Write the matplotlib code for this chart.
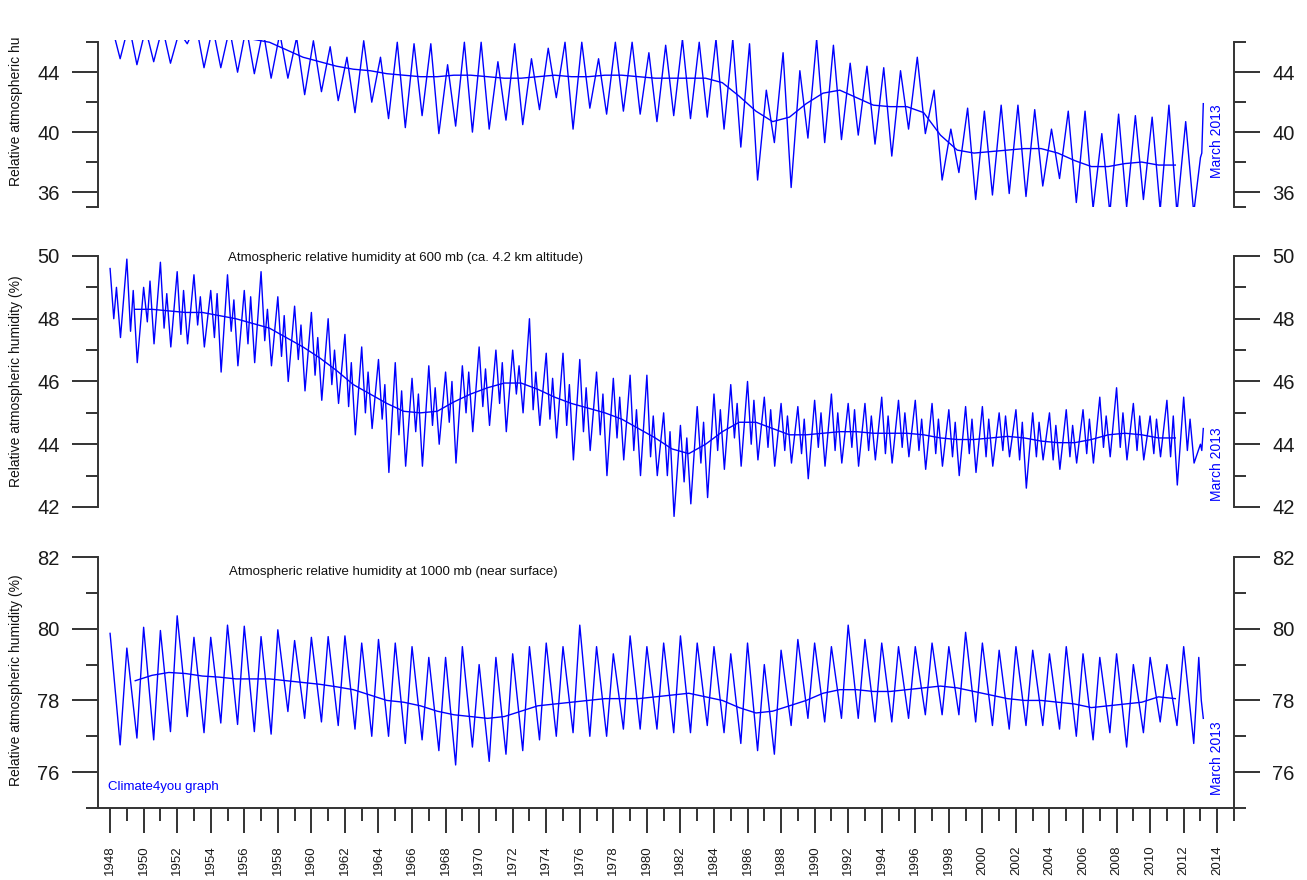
import numpy as np
import matplotlib
matplotlib.use('Agg')
import matplotlib.pyplot as plt
from matplotlib.ticker import MultipleLocator

plt.rcParams['font.family'] = ['Liberation Sans', 'DejaVu Sans']

# calendar years of the yearly extremes (Jan 1948 .. 2012)
years = list(range(1948, 2013))
# centres of the running mean values
smooth_years = [y + 0.5 for y in range(1949, 2012)]

# ---- top panel (upper troposphere, clipped at top) ----
top_peaks = [47.0, 47.2, 46.9, 47.0, 46.7, 47.2, 47.0, 46.9, 47.0, 46.8,
             46.6, 46.3, 46.1, 45.7, 45.0, 46.1, 45.0, 46.0, 45.9, 45.9,
             44.5, 46.0, 46.0, 44.7, 45.9, 44.9, 45.6, 46.0, 46.0, 44.9,
             46.0, 46.0, 45.3, 45.8, 46.2, 46.0, 46.2, 46.2, 45.9, 42.8,
             45.3, 44.1, 46.2, 45.8, 44.6, 44.4, 44.3, 44.1, 45.0, 42.8,
             40.2, 41.6, 41.4, 41.8, 41.8, 41.5, 40.2, 41.4, 41.4, 39.9,
             41.2, 41.1, 41.0, 41.8, 40.7]
top_troughs = [44.9, 44.5, 44.7, 44.6, 45.9, 44.3, 44.3, 44.0, 43.9, 43.6,
               43.6, 42.5, 42.7, 42.1, 41.3, 42.0, 40.9, 40.3, 41.1, 39.9,
               40.4, 40.0, 40.2, 40.8, 40.5, 41.5, 42.3, 40.2, 41.6, 41.2,
               41.4, 41.2, 40.7, 41.1, 40.9, 41.0, 40.2, 39.0, 36.8, 39.3,
               36.3, 39.6, 39.3, 39.5, 39.8, 39.2, 38.4, 40.2, 39.9, 36.8,
               37.3, 35.5, 35.8, 35.9, 35.7, 36.4, 36.9, 35.3, 34.9, 34.6,
               35.0, 35.5, 34.8, 34.6, 34.6]
top_end_t = [2013.0, 2013.08, 2013.17]
top_end_v = [38.3, 38.6, 41.9]
top_smooth = [46.8, 46.8, 46.7, 46.7, 46.6, 46.5, 46.4, 46.2,
              46.0, 45.5, 45.0, 44.7, 44.4, 44.2, 44.1, 43.9, 43.8, 43.7,
              43.7, 43.8, 43.8, 43.7, 43.6, 43.6, 43.7, 43.8, 43.7, 43.7,
              43.8, 43.8, 43.7, 43.6, 43.6, 43.6, 43.6, 43.3, 42.4, 41.4,
              40.7, 41.0, 41.9, 42.6, 42.8, 42.3, 41.8, 41.7, 41.7, 41.3,
              39.8, 38.8, 38.6, 38.7, 38.8, 38.9, 38.9, 38.6, 38.1, 37.7,
              37.7, 37.9, 38.0, 37.8, 37.8]

# ---- 600 mb (two wiggles a year: main peak, dip, bump, main trough) ----
mid_peaks = [49.6, 49.9, 49.0, 49.8, 49.5, 49.4, 48.9, 49.4, 48.9, 49.5,
             48.7, 48.4, 48.2, 48.0, 47.5, 47.1, 46.7, 46.6, 46.1, 46.5,
             46.3, 46.5, 47.1, 47.0, 47.0, 48.0, 46.9, 46.9, 46.7, 46.3,
             46.1, 46.2, 46.2, 45.0, 44.6, 45.2, 45.6, 45.9, 46.0, 45.5,
             45.3, 45.2, 45.4, 45.6, 45.3, 45.3, 45.5, 45.4, 45.4, 45.3,
             45.1, 45.2, 45.2, 45.0, 45.1, 45.0, 45.0, 45.1, 45.1, 45.5,
             45.8, 45.3, 44.9, 45.4, 45.5]
mid_dips = [48.0, 47.6, 47.9, 47.7, 47.5, 47.8, 47.4, 47.6, 47.2, 47.3,
            46.8, 46.7, 46.2, 45.9, 45.2, 45.0, 44.8, 44.3, 44.4, 44.6,
            44.7, 45.0, 45.2, 45.3, 45.6, 45.1, 44.8, 44.6, 44.4, 44.3,
            44.2, 43.8, 43.6, 43.0, 42.8, 43.4, 43.8, 44.2, 44.0, 43.9,
            43.8, 43.7, 43.9, 43.8, 43.9, 43.8, 43.7, 43.9, 43.8, 43.7,
            43.6, 43.7, 43.6, 43.8, 43.5, 43.6, 43.5, 43.6, 43.7, 43.9,
            43.9, 43.8, 43.7, 43.6, 43.8]
mid_bumps = [49.0, 48.9, 49.2, 48.8, 48.9, 48.7, 48.8, 48.6, 48.7, 48.3,
             48.1, 47.8, 47.4, 47.0, 46.6, 46.3, 45.9, 45.7, 45.6, 45.8,
             46.0, 46.3, 46.4, 46.6, 46.5, 46.3, 46.1, 45.9, 45.8, 45.6,
             45.5, 45.1, 44.9, 44.4, 44.2, 44.7, 45.1, 45.3, 45.4, 45.1,
             44.9, 44.8, 45.0, 45.0, 45.1, 44.9, 44.9, 45.0, 44.8, 44.8,
             44.7, 44.8, 44.8, 44.9, 44.7, 44.7, 44.6, 44.6, 44.8, 44.9,
             45.0, 44.9, 44.8, 44.9, 44.8]
mid_troughs = [47.4, 46.6, 47.2, 47.1, 47.2, 47.1, 46.3, 46.5, 46.6, 46.5,
               46.0, 45.7, 45.4, 45.3, 44.3, 44.5, 43.1, 43.3, 43.3, 44.0,
               43.4, 44.4, 44.6, 44.4, 45.0, 44.6, 44.2, 43.5, 43.8, 43.0,
               43.5, 43.0, 43.0, 41.7, 42.1, 42.3, 43.2, 43.3, 43.5, 43.3,
               43.4, 42.9, 43.3, 43.4, 43.3, 43.5, 43.4, 43.6, 43.2, 43.3,
               43.0, 43.1, 43.3, 43.6, 42.6, 43.5, 43.2, 43.4, 43.4, 43.6,
               43.5, 43.5, 43.6, 42.7, 43.4]
mid_end_t = [2013.0, 2013.08, 2013.17]
mid_end_v = [44.0, 43.8, 44.5]
mid_smooth = [48.3, 48.3, 48.25, 48.2, 48.2, 48.1, 48.0, 47.85, 47.7, 47.4,
              47.1, 46.75, 46.35, 45.9, 45.6, 45.3, 45.05, 45.0, 45.05, 45.35,
              45.6, 45.8, 45.95, 45.95, 45.75, 45.5, 45.3, 45.15, 45.0, 44.8,
              44.5, 44.2, 43.85, 43.7, 44.0, 44.4, 44.7, 44.7, 44.5, 44.3,
              44.3, 44.35, 44.4, 44.4, 44.35, 44.35, 44.35, 44.3, 44.2, 44.15,
              44.15, 44.2, 44.25, 44.2, 44.1, 44.05, 44.05, 44.15, 44.3, 44.35,
              44.3, 44.2, 44.2]

# ---- 1000 mb ----
bot_peaks = [79.87, 79.46, 80.04, 79.95, 80.36, 79.76, 79.76, 80.1, 80.07, 79.78,
             79.97, 79.67, 79.76, 79.78, 79.8, 79.6, 79.7, 79.6, 79.5, 79.2,
             79.2, 79.5, 79.0, 79.2, 79.3, 79.5, 79.6, 79.5, 80.1, 79.5,
             79.3, 79.8, 79.5, 79.6, 79.8, 79.6, 79.5, 79.3, 79.6, 79.0,
             79.4, 79.7, 79.6, 79.5, 80.1, 79.7, 79.6, 79.5, 79.5, 79.6,
             79.5, 79.9, 79.6, 79.4, 79.5, 79.4, 79.3, 79.5, 79.3, 79.2,
             79.3, 79.0, 79.2, 79.0, 79.5]
bot_troughs = [76.76, 76.95, 76.9, 77.13, 77.55, 77.1, 77.37, 77.33, 77.13, 77.06,
               77.69, 77.5, 77.4, 77.3, 77.2, 77.0, 77.0, 76.8, 76.9, 76.6,
               76.2, 76.7, 76.3, 76.5, 76.6, 76.9, 77.0, 77.1, 77.0, 77.0,
               77.2, 77.2, 77.2, 77.1, 77.1, 77.3, 77.1, 76.8, 76.6, 76.5,
               77.3, 77.5, 77.4, 77.5, 77.5, 77.4, 77.4, 77.5, 77.6, 77.6,
               77.6, 77.4, 77.3, 77.2, 77.3, 77.3, 77.2, 77.0, 76.9, 77.1,
               76.7, 77.1, 77.4, 77.3, 76.8]
bot_end_t = [2012.9, 2013.05, 2013.17]
bot_end_v = [79.2, 78.0, 77.5]
bot_smooth = [78.55, 78.7, 78.78, 78.75, 78.68, 78.65, 78.6, 78.6, 78.6, 78.55,
              78.5, 78.45, 78.38, 78.3, 78.15, 78.0, 77.95, 77.85, 77.7, 77.6,
              77.55, 77.5, 77.55, 77.7, 77.85, 77.9, 77.95, 78.0, 78.05, 78.05,
              78.05, 78.1, 78.15, 78.2, 78.1, 78.0, 77.8, 77.65, 77.7, 77.85,
              78.0, 78.2, 78.3, 78.3, 78.25, 78.25, 78.3, 78.35, 78.4, 78.35,
              78.25, 78.15, 78.05, 78.0, 78.0, 77.95, 77.9, 77.8, 77.85, 77.9,
              77.95, 78.1, 78.05]


def build_series(cols, offsets, end_t, end_v):
    # cols: yearly value lists, offsets: position of each within the year
    t, v = [], []
    for i, y in enumerate(years):
        for col, off in zip(cols, offsets):
            t.append(y + off)
            v.append(col[i])
    return t + end_t, v + end_v


BLUE = '#0000ff'
AXC = '#333333'
W, H = 1307, 880
L, R = 98, 1234
XMIN, XMAX = 1947.28, 2015.0

fig = plt.figure(figsize=(W / 100, H / 100), dpi=100)


def make_axes(y_top_px, y_bot_px, ylim, bounds, majors, minors):
    ax = fig.add_axes([L / W, 1 - y_bot_px / H, (R - L) / W, (y_bot_px - y_top_px) / H])
    ax.set_xlim(XMIN, XMAX)
    ax.set_ylim(*ylim)
    ax.spines['top'].set_visible(False)
    for s in ('left', 'right'):
        ax.spines[s].set_bounds(*bounds)
        ax.spines[s].set_color(AXC)
        ax.spines[s].set_linewidth(1.4)
    ax.set_yticks(majors)
    ax.set_yticks(minors, minor=True)
    ax.tick_params(axis='y', which='both', direction='out', left=True, right=True,
                   labelleft=True, labelright=True, color=AXC, width=1.4)
    ax.tick_params(axis='y', which='major', length=18.5, pad=9, labelsize=14.5, labelcolor='#1a1a1a')
    ax.tick_params(axis='y', which='minor', length=8.7)
    return ax


# top panel
ax1 = make_axes(40, 207, (35, 46.15), (35, 46), [36, 40, 44], [35, 38, 42, 46])
t, v = build_series([top_peaks, top_troughs], [0.12, 0.6], top_end_t, top_end_v)
ax1.plot(t, v, color=BLUE, lw=1.0)
ax1.plot(smooth_years, top_smooth, color=BLUE, lw=1.0)

# 600 mb panel
ax2 = make_axes(249.7, 525.8, (41.4, 50.2), (42, 50), [42, 44, 46, 48, 50], [43, 45, 47, 49])
t, v = build_series([mid_peaks, mid_dips, mid_bumps, mid_troughs], [0.0, 0.22, 0.38, 0.62],
                    mid_end_t, mid_end_v)
ax2.plot(t, v, color=BLUE, lw=1.0)
ax2.plot(smooth_years, mid_smooth, color=BLUE, lw=1.0)
ax2.text(0.1144, 0.97, 'Atmospheric relative humidity at 600 mb (ca. 4.2 km altitude)',
         transform=ax2.transAxes, fontsize=9.5, va='center', ha='left', color='#111111')

# 1000 mb panel
ax3 = make_axes(557, 808, (75, 82), (75, 82), [76, 78, 80, 82], [75, 77, 79, 81])
t, v = build_series([bot_peaks, bot_troughs], [0.0, 0.6], bot_end_t, bot_end_v)
ax3.plot(t, v, color=BLUE, lw=1.0)
ax3.plot(smooth_years, bot_smooth, color=BLUE, lw=1.0)
ax3.text(0.1153, 0.94, 'Atmospheric relative humidity at 1000 mb (near surface)',
         transform=ax3.transAxes, fontsize=9.5, va='center', ha='left', color='#111111')
ax3.text(0.0088, 0.084, 'Climate4you graph', transform=ax3.transAxes,
         fontsize=9.5, va='center', ha='left', color=BLUE)

for ax in (ax1, ax2):
    ax.spines['bottom'].set_visible(False)
    ax.tick_params(axis='x', which='both', bottom=False, labelbottom=False)

ax3.spines['bottom'].set_color(AXC)
ax3.spines['bottom'].set_linewidth(1.4)
ax3.set_xticks(list(range(1948, 2015, 2)))
ax3.set_xticklabels([str(y) for y in range(1948, 2015, 2)], rotation=90)
ax3.xaxis.set_minor_locator(MultipleLocator(1))
ax3.tick_params(axis='x', which='both', direction='out', color=AXC, width=1.4)
ax3.tick_params(axis='x', which='major', length=18, pad=9, labelsize=9.5, labelcolor='#1a1a1a')
ax3.tick_params(axis='x', which='minor', length=9)

# "March 2013" markers
for ax, yc in ((ax1, 0.395), (ax2, 0.224), (ax3, 0.199)):
    ax.text(0.985, yc, 'March 2013', transform=ax.transAxes, rotation=90,
            fontsize=10, color=BLUE, ha='center', va='center')

# y axis titles
ylab = 'Relative atmospheric humidity (%)'
fig.text(16.5 / W, 1 - 186 / H, 'Relative atmospheric hu', rotation=90,
         fontsize=10, ha='center', va='bottom', color='#111111')
fig.text(16.5 / W, 1 - 381 / H, ylab, rotation=90, fontsize=10,
         ha='center', va='center', color='#111111')
fig.text(16.5 / W, 1 - 680 / H, ylab, rotation=90, fontsize=10,
         ha='center', va='center', color='#111111')

fig.savefig('out.png', dpi=100)
